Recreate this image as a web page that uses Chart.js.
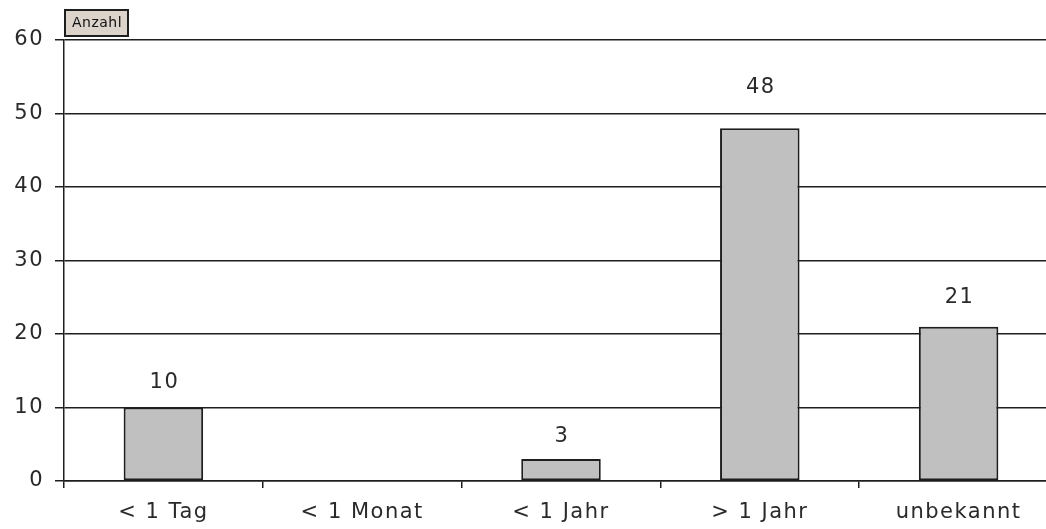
<!DOCTYPE html>
<html>
<head>
<meta charset="utf-8">
<script src="https://cdn.jsdelivr.net/npm/chart.js@4/dist/chart.umd.min.js"></script>
<style>
  html, body { margin: 0; padding: 0; background: #fff; overflow: hidden; }
  #wrap { width: 1058px; height: 529px; }
</style>
</head>
<body>
<div id="wrap"><canvas id="c" width="1058" height="529"></canvas></div>
<script>
// Dauer – Anzahl der Fälle je Kategorie
const categories = ['< 1 Tag', '< 1 Monat', '< 1 Jahr', '> 1 Jahr', 'unbekannt'];
const anzahl = [10, 0, 3, 48, 21];
const yTicks = [0, 10, 20, 30, 40, 50, 60];
const seriesName = 'Anzahl';

const FONT = '"DejaVu Sans", Verdana, sans-serif';
const INK = '#1e1e1e';
const TEXT = '#2a2a2a';
const TRACK = '1.5px';

// wide, spaced lettering for all canvas text
const spacing = {
  id: 'spacing',
  beforeDraw(chart) { chart.ctx.letterSpacing = TRACK; }
};

// value labels above the bars and the series tag in the top-left corner
const annotate = {
  id: 'annotate',
  afterDatasetsDraw(chart) {
    const ctx = chart.ctx;
    const meta = chart.getDatasetMeta(0);
    ctx.save();
    ctx.letterSpacing = TRACK;
    ctx.font = '21px ' + FONT;
    ctx.fillStyle = TEXT;
    ctx.textAlign = 'center';
    ctx.textBaseline = 'middle';
    meta.data.forEach((bar, i) => {
      const v = anzahl[i];
      if (!v) return;
      const gap = 21 + 0.4 * v;
      ctx.fillText(String(v), bar.x + 1, bar.y - gap);
    });
    ctx.restore();

    // series tag
    ctx.save();
    ctx.fillStyle = '#dcd3cb';
    ctx.fillRect(64, 9, 65, 28);
    ctx.strokeStyle = INK;
    ctx.lineWidth = 2;
    ctx.strokeRect(65, 10, 63, 26);
    ctx.letterSpacing = '0.5px';
    ctx.font = '14px ' + FONT;
    ctx.fillStyle = '#111';
    ctx.textAlign = 'center';
    ctx.textBaseline = 'middle';
    ctx.fillText(seriesName, 97, 23.5);
    ctx.restore();
  }
};

new Chart(document.getElementById('c'), {
  type: 'bar',
  data: {
    labels: categories,
    datasets: [{
      label: seriesName,
      data: anzahl,
      backgroundColor: '#c0c0c0',
      borderColor: INK,
      borderWidth: 2,
      borderSkipped: false,
      barPercentage: 0.4,
      categoryPercentage: 1.0
    }]
  },
  options: {
    responsive: false,
    animation: false,
    devicePixelRatio: 1,
    layout: { padding: { top: 40, right: 0, bottom: 0, left: 0 } },
    plugins: {
      legend: { display: false },
      tooltip: { enabled: false }
    },
    scales: {
      x: {
        offset: true,
        grid: {
          offset: true,
          drawOnChartArea: false,
          drawTicks: true,
          tickLength: 7,
          color: INK,
          lineWidth: 1.5
        },
        border: { display: true, color: INK, width: 1.5 },
        ticks: {
          color: TEXT,
          font: { family: FONT, size: 21 },
          padding: 12,
          maxRotation: 0,
          autoSkip: false
        },
        afterFit(scale) { scale.height = 48; }
      },
      y: {
        min: 0,
        max: 60,
        afterBuildTicks(scale) { scale.ticks = yTicks.map(v => ({ value: v })); },
        grid: {
          color: INK,
          lineWidth: 1.5,
          drawTicks: true,
          tickLength: 9
        },
        border: { display: true, color: INK, width: 1.5 },
        ticks: {
          color: TEXT,
          font: { family: FONT, size: 21 },
          padding: 11
        },
        afterFit(scale) { scale.width = 64; }
      }
    }
  },
  plugins: [spacing, annotate]
});
</script>
</body>
</html>
